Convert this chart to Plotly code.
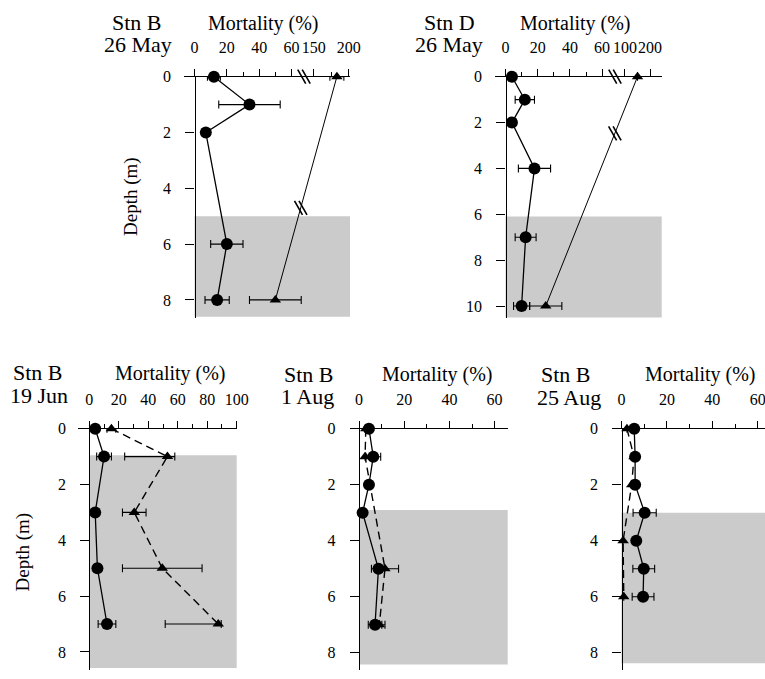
import numpy as np
import plotly.graph_objects as go

W, H = 765, 679
FONT = "Liberation Serif"

# ---------------- data ----------------
# Panel 1: Stn B, 26 May
p1_circ_depth = [0, 1, 2, 6, 8]
p1_circ_mort = [12, 34, 7, 20, 14]
p1_circ_err = [4, 19, 0, 10, 7.5]
p1_tri_depth = [0, 8]
p1_tri_mort = [183, 50]
p1_tri_err = [10, 16]
p1_box = [5.0, 8.6]

# Panel 2: Stn D, 26 May
p2_circ_depth = [0, 1, 2, 4, 7, 10]
p2_circ_mort = [4, 12, 4, 18, 12.5, 10]
p2_circ_err = [0, 6, 0, 10, 6.5, 5]
p2_tri_depth = [0, 10]
p2_tri_mort = [150, 25]
p2_tri_err = [0, 10]
p2_box = [6.1, 10.5]

# Panel 3: Stn B, 19 Jun
p3_circ_depth = [0, 1, 3, 5, 7]
p3_circ_mort = [4, 10, 4, 5.5, 12]
p3_circ_err = [0, 5, 0, 0, 6]
p3_tri_depth = [0, 1, 3, 5, 7]
p3_tri_mort = [15, 53, 30.5, 49.5, 87.5]
p3_tri_err_plus = [3, 5, 8, 27, 2]
p3_tri_err_minus = [3, 29, 8, 27, 36]
p3_box = [0.95, 8.58]

# Panel 4: Stn B, 1 Aug
p4_circ_depth = [0, 1, 2, 3, 5, 7]
p4_circ_mort = [4.4, 6.3, 4.4, 1.6, 8.6, 7.1]
p4_circ_err = [0, 3.3, 0, 0, 0, 3]
p4_tri_depth = [0, 1, 5, 7]
p4_tri_mort = [3, 2.7, 11.5, 9]
p4_tri_err = [0, 0, 6, 2.5]
p4_box = [2.9, 8.42]

# Panel 5: Stn B, 25 Aug
p5_circ_depth = [0, 1, 2, 3, 4, 5, 6]
p5_circ_mort = [5.6, 6, 6, 10.2, 6.5, 9.8, 9.5]
p5_circ_err = [0, 0, 0, 5.1, 0, 4.8, 4.8]
p5_tri_depth = [0, 1, 2, 4, 6]
p5_tri_mort = [2.4, 5.5, 4.5, 0.7, 1]
p5_tri_err = [0, 0, 0, 0, 0]
p5_box = [3.0, 8.38]

titles = [("Stn B", "26 May"), ("Stn D", "26 May"), ("Stn B", "19 Jun"),
          ("Stn B", "1 Aug"), ("Stn B", "25 Aug")]


# broken-axis display transforms (value -> drawn position)
def brk1(v):
    v = np.asarray(v, float)
    return np.where(v <= 66, v, 73.8 + (v - 150) * 0.432)


def brk2(v):
    v = np.asarray(v, float)
    return np.where(v <= 66, v, 74.2 + (v - 100) * 0.156)


def ident(v):
    return np.asarray(v, float)


# ---------------- geometry (pixels) ----------------
geo = {
    1: dict(ax=194.5, ppu=1.617, xl=184, xr=350, y0=76.7, ppm=27.9, yb=318),
    2: dict(ax=505.5, ppu=1.61, xl=495, xr=661.7, y0=76.7, ppm=22.93, yb=318),
    3: dict(ax=89.3, ppu=1.474, xl=78.3, xr=236.7, y0=428.7, ppm=27.9, yb=670),
    4: dict(ax=359, ppu=2.26, xl=350, xr=507.7, y0=428.7, ppm=28, yb=670),
    5: dict(ax=621.5, ppu=2.27, xl=613, xr=765, y0=428.7, ppm=28, yb=670),
}

fig = go.Figure()
layout = {}
shapes = []
annotations = []


def pxx(x):
    return x / W


def pxy(y):
    return 1 - y / H


def add_series(i, depth, mort, err_plus, err_minus, tf, symbol, size, dash, lw):
    m = np.asarray(mort, float)
    d = tf(m)
    ep = tf(m + np.asarray(err_plus, float)) - d
    em = d - tf(m - np.asarray(err_minus, float))
    sfx = "" if i == 1 else str(i)
    fig.add_trace(go.Scatter(
        x=d, y=depth, mode="lines+markers",
        xaxis="x" + sfx, yaxis="y" + sfx,
        line=dict(color="black", width=lw, dash=dash),
        marker=dict(symbol=symbol, size=size, color="black"),
        error_x=dict(type="data", symmetric=False, array=ep, arrayminus=em,
                     color="black", thickness=1.1, width=4),
        cliponaxis=False, showlegend=False, hoverinfo="skip"))


panels = {
    1: dict(tf=brk1,
            circ=(p1_circ_depth, p1_circ_mort, p1_circ_err, p1_circ_err),
            tri=(p1_tri_depth, p1_tri_mort, p1_tri_err, p1_tri_err),
            tri_dash="solid", tri_lw=1.0, box=p1_box,
            ticks=[0, 20, 40, 60, 150, 200], minor=[10, 30, 50, 175],
            yticks=[0, 2, 4, 6, 8]),
    2: dict(tf=brk2,
            circ=(p2_circ_depth, p2_circ_mort, p2_circ_err, p2_circ_err),
            tri=(p2_tri_depth, p2_tri_mort, p2_tri_err, p2_tri_err),
            tri_dash="solid", tri_lw=1.0, box=p2_box,
            ticks=[0, 20, 40, 60, 100, 200], minor=[10, 30, 50, 150],
            yticks=[0, 2, 4, 6, 8, 10]),
    3: dict(tf=ident,
            circ=(p3_circ_depth, p3_circ_mort, p3_circ_err, p3_circ_err),
            tri=(p3_tri_depth, p3_tri_mort, p3_tri_err_plus, p3_tri_err_minus),
            tri_dash="8px,5px", tri_lw=1.4, box=p3_box,
            ticks=[0, 20, 40, 60, 80, 100], minor=[10, 30, 50, 70, 90],
            yticks=[0, 2, 4, 6, 8]),
    4: dict(tf=ident,
            circ=(p4_circ_depth, p4_circ_mort, p4_circ_err, p4_circ_err),
            tri=(p4_tri_depth, p4_tri_mort, p4_tri_err, p4_tri_err),
            tri_dash="8px,5px", tri_lw=1.4, box=p4_box,
            ticks=[0, 20, 40, 60], minor=[10, 30, 50],
            yticks=[0, 2, 4, 6, 8]),
    5: dict(tf=ident,
            circ=(p5_circ_depth, p5_circ_mort, p5_circ_err, p5_circ_err),
            tri=(p5_tri_depth, p5_tri_mort, p5_tri_err, p5_tri_err),
            tri_dash="8px,5px", tri_lw=1.4, box=p5_box,
            ticks=[0, 20, 40, 60], minor=[10, 30, 50],
            yticks=[0, 2, 4, 6, 8]),
}

for i, p in panels.items():
    g = geo[i]
    sfx = "" if i == 1 else str(i)
    xr = [(g["xl"] - g["ax"]) / g["ppu"], (g["xr"] - g["ax"]) / g["ppu"]]
    yr = [(g["yb"] - g["y0"]) / g["ppm"], 0]
    tf = p["tf"]
    layout["xaxis" + sfx] = dict(
        domain=[pxx(g["xl"]), pxx(g["xr"])], range=xr, anchor="y" + sfx,
        side="top", showline=True, linecolor="black", linewidth=1.4,
        showgrid=False, zeroline=False, ticks="outside", ticklen=7,
        tickwidth=1.2, tickcolor="black", tickmode="array",
        tickvals=list(tf(p["ticks"])), ticktext=[str(t) for t in p["ticks"]],
        tickangle=0, ticklabelstandoff=9, automargin=False,
        ticklabeloverflow="allow",
        tickfont=dict(family=FONT, size=16, color="black"),
        minor=dict(tickmode="array", tickvals=list(tf(p["minor"])), ticks="outside",
                   ticklen=4, tickwidth=1.2, tickcolor="black", showgrid=False),
        fixedrange=True)
    layout["yaxis" + sfx] = dict(
        domain=[pxy(g["yb"]), pxy(g["y0"])], range=yr, anchor="free",
        position=pxx(g["ax"]), showline=True, linecolor="black", linewidth=1.4,
        showgrid=False, zeroline=False, ticks="outside", ticklen=9,
        tickwidth=1.2, tickcolor="black", tickmode="array", automargin=False,
        tickvals=p["yticks"], ticklabelstandoff=11, tickangle=0,
        ticklabeloverflow="allow",
        tickfont=dict(family=FONT, size=16, color="black"), fixedrange=True)

    # grey layer box
    shapes.append(dict(type="rect", xref="x" + sfx, yref="y" + sfx,
                       x0=0, x1=xr[1] + 5, y0=p["box"][0], y1=p["box"][1],
                       fillcolor="#cbcbcb", line=dict(width=0), layer="below"))

    td, tm, tp, tmn = p["tri"]
    add_series(i, td, tm, tp, tmn, tf, "triangle-up", 10, p["tri_dash"], p["tri_lw"])
    cd, cm, cp, cmn = p["circ"]
    add_series(i, cd, cm, cp, cmn, tf, "circle", 12, "solid", 1.3)


# ---------------- break marks ----------------
def slash(cx, cy, w=4, h=7, gap=4.5):
    for off in (-gap / 2, gap / 2):
        shapes.append(dict(type="line", xref="paper", yref="paper",
                           x0=pxx(cx + off - w), y0=pxy(cy - h),
                           x1=pxx(cx + off + w), y1=pxy(cy + h),
                           line=dict(color="black", width=1.6), layer="above"))


# axis breaks
for i, dbrk in ((1, 67.7), (2, 68.0)):
    g = geo[i]
    slash(g["ax"] + dbrk * g["ppu"], g["y0"])

# line breaks on triangle profiles
for i, tf, depth, mort, dbreak in ((1, brk1, p1_tri_depth, p1_tri_mort, 4.7),
                                    (2, brk2, p2_tri_depth, p2_tri_mort, 2.47)):
    g = geo[i]
    dd = tf(mort)
    xv = np.interp(dbreak, depth, dd)
    slash(g["ax"] + xv * g["ppu"], g["y0"] + dbreak * g["ppm"])


# ---------------- texts ----------------
def text(x, y, s, size, angle=0):
    annotations.append(dict(x=pxx(x), y=pxy(y), xref="paper", yref="paper",
                            text=s, showarrow=False, textangle=angle,
                            xanchor="center", yanchor="middle",
                            font=dict(family=FONT, size=size, color="black")))


title_pos = {1: (136.5, 23, 137.5, 45, 263.5, 24),
             2: (449, 23, 449, 45, 575, 24),
             3: (37.5, 372, 38.5, 395, 170, 373),
             4: (309, 374, 307, 396, 437.5, 374),
             5: (566, 374, 569, 397, 700, 374)}
for i, (sx, sy, dx, dy, mx, my) in title_pos.items():
    stn, date = titles[i - 1]
    text(sx, sy, stn, 22)
    text(dx, dy, date, 22)
    text(mx, my, "Mortality (%)", 20)

text(131, 197, "Depth (m)", 19, -90)
text(22.5, 552, "Depth (m)", 19, -90)

fig.update_layout(width=W, height=H, margin=dict(l=0, r=0, t=0, b=0, pad=0),
                  paper_bgcolor="white", plot_bgcolor="white",
                  shapes=shapes, annotations=annotations, **layout)

fig.write_html("out.html", config={"displayModeBar": False},
               post_script="document.body.style.margin='0px';"
                           "document.body.style.overflow='hidden';")
